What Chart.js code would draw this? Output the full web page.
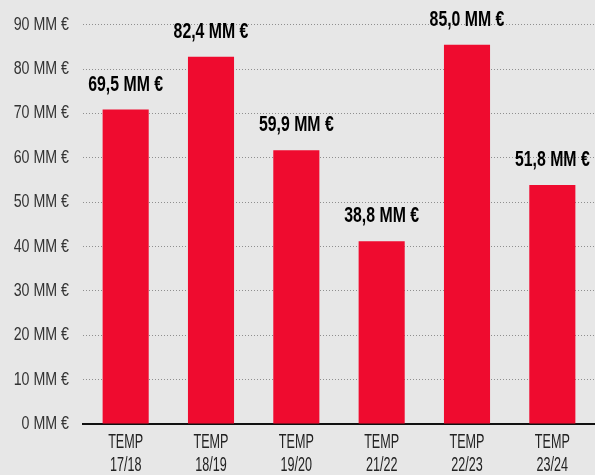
<!DOCTYPE html>
<html>
<head>
<meta charset="utf-8">
<script src="https://cdn.jsdelivr.net/npm/chart.js@4"></script>
<style>
  html, body { margin: 0; padding: 0; background: #e7e7e7; }
  #wrap { width: 595px; height: 475px; }
</style>
</head>
<body>
<div id="wrap"><canvas id="chart"></canvas></div>
<script>
const seasons = [["TEMP", "17/18"], ["TEMP", "18/19"], ["TEMP", "19/20"], ["TEMP", "21/22"], ["TEMP", "22/23"], ["TEMP", "23/24"]]
// bar heights as drawn in the picture
const barValues = [70.9, 82.8, 61.7, 41.2, 85.5, 53.9]
// labels printed above each bar
const barLabels = ["69,5 MM €", "82,4 MM €", "59,9 MM €", "38,8 MM €", "85,0 MM €", "51,8 MM €"]
const yTicks = [0, 10, 20, 30, 40, 50, 60, 70, 80, 90]

const sans = "'Liberation Sans', Arial, sans-serif"

// the original uses a condensed face, so squeeze the tick text sideways
function squeezeLabels(axis, sx) {
  axis.drawLabels = function (chartArea) {
    const ctx = this.ctx
    this.getLabelItems(chartArea).forEach((item) => {
      const o = item.options
      const lines = Array.isArray(item.label) ? item.label : [item.label]
      ctx.save()
      ctx.translate(o.translation[0], o.translation[1])
      ctx.scale(sx, 1)
      ctx.font = item.font.string
      ctx.fillStyle = o.color
      ctx.textAlign = o.textAlign
      ctx.textBaseline = o.textBaseline
      let y = item.textOffset
      lines.forEach((line) => {
        ctx.fillText(line, 0, y)
        y += item.font.lineHeight
      })
      ctx.restore()
    })
  }
}

const valueLabels = {
  id: "valueLabels",
  afterDatasetsDraw(chart) {
    const ctx = chart.ctx
    const meta = chart.getDatasetMeta(0)
    meta.data.forEach((bar, i) => {
      ctx.save()
      ctx.translate(bar.x, bar.y - 19)
      ctx.scale(0.72, 1)
      ctx.font = "bold 22px " + sans
      ctx.fillStyle = "#000"
      ctx.textAlign = "center"
      ctx.textBaseline = "alphabetic"
      ctx.fillText(barLabels[i], 0, 0)
      ctx.restore()
    })
  }
}

const ctx = document.getElementById("chart").getContext("2d")
new Chart(ctx, {
  type: "bar",
  data: {
    labels: seasons,
    datasets: [
      {
        data: barValues,
        backgroundColor: "#ef0b2f",
        borderWidth: 0,
        barPercentage: 0.54,
        categoryPercentage: 1,
      },
    ],
  },
  options: {
    responsive: true,
    maintainAspectRatio: false,
    animation: false,
    layout: {
      padding: { top: 6, right: -6, left: 0, bottom: -9 },
    },
    plugins: {
      legend: { display: false },
      tooltip: { enabled: false },
    },
    scales: {
      x: {
        grid: { display: false, drawTicks: false },
        border: { display: true, color: "#111", width: 2 },
        ticks: {
          color: "#222",
          font: { family: sans, size: 20, lineHeight: 1.15 },
          padding: 7,
          maxRotation: 0,
        },
        afterUpdate: (axis) => squeezeLabels(axis, 0.63),
      },
      y: {
        min: 0,
        max: 90,
        afterBuildTicks: (axis) => {
          axis.ticks = yTicks.map((v) => ({ value: v }))
        },
        grid: { color: "#8f8f8f", drawTicks: false, lineWidth: 1 },
        border: { display: false, dash: [1, 2] },
        ticks: {
          color: "#333",
          font: { family: sans, size: 18 },
          padding: 14,
          callback: (v) => v + " MM €",
        },
        afterFit: (axis) => {
          axis.width = 83
        },
        afterUpdate: (axis) => squeezeLabels(axis, 0.79),
      },
    },
  },
  plugins: [valueLabels],
})
</script>
</body>
</html>
